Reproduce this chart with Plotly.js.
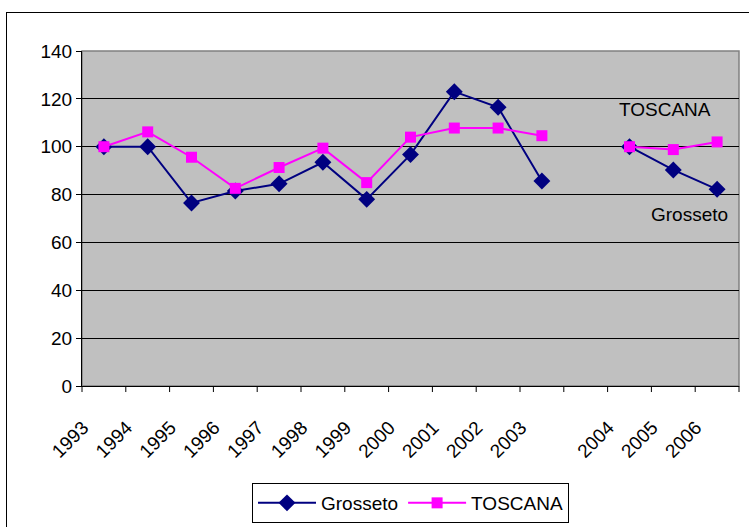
<!DOCTYPE html>
<html>
<head>
<meta charset="utf-8">
<script src="https://cdn.plot.ly/plotly-3.0.1.min.js"></script>
<style>
html,body{margin:0;padding:0;background:#fff;overflow:hidden;}
#frame{position:absolute;left:6px;top:12px;width:760px;height:530px;border:1px solid #000;box-sizing:border-box;}
#chart{position:absolute;left:0;top:0;width:749px;height:527px;}
</style>
</head>
<body>
<div id="frame"></div>
<div id="chart"></div>
<script>
const years = ["1993","1994","1995","1996","1997","1998","1999","2000","2001","2002","2003"," ","2004","2005","2006"];
const grosseto = [100,100,76.5,81.5,84.5,93.5,78,96.7,123,116.5,85.7,null,100,90.3,82.2];
const toscana  = [100,106.2,95.6,82.6,91.3,99.4,85,104,107.8,107.8,104.6,null,100,98.8,102];
const yTicks = [0,20,40,60,80,100,120,140];

const xPos = years.map((_, i) => i);

const font = {family:"Liberation Sans, Arial, sans-serif", size:19, color:"#000"};

const traces = [
  {x:xPos, y:grosseto, name:"Grosseto", type:"scatter", mode:"lines+markers",
   line:{color:"#000080", width:2}, marker:{symbol:"diamond", size:13, color:"#000080"},
   connectgaps:false},
  {x:xPos, y:toscana, name:"TOSCANA", type:"scatter", mode:"lines+markers",
   line:{color:"#FF00FF", width:2}, marker:{symbol:"square", size:11, color:"#FF00FF"},
   connectgaps:false}
];

// category-boundary tick marks below the x axis (Excel style)
const tickShapes = [];
for (let i = 0; i <= years.length; i++) {
  tickShapes.push({type:"line", xref:"paper", yref:"paper",
                   x0:i / years.length, x1:i / years.length, y0:0, y1:-0.018,
                   line:{color:"#000", width:1}});
}

const layout = {
  width:749, height:527,
  margin:{l:82, r:10, t:51, b:141},
  paper_bgcolor:"rgba(0,0,0,0)",
  plot_bgcolor:"#C0C0C0",
  font:font,
  showlegend:true,
  legend:{orientation:"h", x:0.5, xanchor:"center", xref:"paper",
          y:0.0835, yanchor:"top", yref:"container", itemwidth:58,
          bordercolor:"#000", borderwidth:1, bgcolor:"#fff", font:font},
  xaxis:{type:"linear", range:[-0.5, years.length - 0.5], automargin:false,
         tickmode:"array", tickvals:xPos, ticktext:years, ticks:"",
         showgrid:false, zeroline:false, showline:true, linecolor:"#000", linewidth:1,
         tickangle:-45, tickfont:font, ticklabelshift:-21, ticklabelstandoff:22,
         fixedrange:true},
  yaxis:{range:[0,140], tickvals:yTicks, ticks:"outside", ticklen:5, tickcolor:"#000",
         automargin:false,
         showgrid:true, gridcolor:"#000", gridwidth:1, zeroline:false,
         showline:true, linecolor:"#000", linewidth:1, tickfont:font, fixedrange:true},
  shapes:[{type:"rect", xref:"paper", yref:"paper", x0:0, x1:1, y0:0, y1:1,
           line:{color:"#808080", width:1.5}, layer:"below"}].concat(tickShapes),
  annotations:[
    {x:12.8, y:115.5, xref:"x", yref:"y", text:"TOSCANA", showarrow:false, font:font},
    {x:13.38, y:71.5, xref:"x", yref:"y", text:"Grosseto", showarrow:false, font:font}
  ]
};

Plotly.newPlot("chart", traces, layout, {displayModeBar:false, staticPlot:true});
</script>
</body>
</html>
